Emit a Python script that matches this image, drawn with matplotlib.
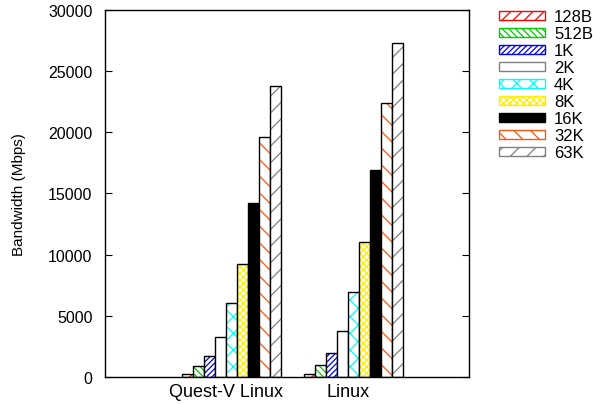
import matplotlib
matplotlib.use('Agg')
import matplotlib.pyplot as plt
from matplotlib.patches import Patch
import numpy as np

plt.rcParams['font.family'] = ['Liberation Sans', 'DejaVu Sans']
plt.rcParams['hatch.linewidth'] = 0.9

# tamaños de mensaje y ancho de banda (Mbps) por sistema
sizes = ['128B', '512B', '1K', '2K', '4K', '8K', '16K', '32K', '63K']
systems = ['Quest-V Linux', 'Linux']
questv = [220, 870, 1690, 3250, 6020, 9240, 14230, 19600, 23820]
linux = [220, 1000, 1960, 3740, 6950, 11040, 16930, 22400, 27280]

# estilo de cada barra: relleno, color de trama, trama
styles = [
    ('white', 'red', '///'),
    ('white', '#00cc00', '\\\\\\\\\\'),
    ('white', '#0000ee', '//////'),
    ('white', 'gray', ''),
    ('white', 'cyan', 'xx'),
    ('white', '#ffee00', 'xxxxx'),
    ('black', 'black', ''),
    ('white', '#ff5511', '\\\\'),
    ('white', 'gray', '//'),
]

fig = plt.figure(figsize=(5.93, 4.06), dpi=100)
ax = fig.add_axes([0.177, 0.069, 0.614, 0.904])

n = len(sizes)
w = 1.0 / (n + 2)
datos = np.array([questv, linux])
for j in range(n):
    x = np.arange(len(systems)) + (j - 3.5) * w
    fc, hc, h = styles[j]
    ax.bar(x, datos[:, j], w, color=fc, edgecolor=hc, hatch=h, linewidth=0)
    ax.bar(x, datos[:, j], w, fill=False, edgecolor='black', linewidth=1)

ax.set_xlim(-1, 2)
ax.set_ylim(0, 30000)
ax.set_xticks(range(len(systems)))
ax.set_xticklabels(systems, fontsize=13)
ax.tick_params(axis='x', length=0, pad=4)
ax.set_yticks(np.arange(0, 30001, 5000))
ax.tick_params(axis='y', direction='in', right=True, length=5, labelsize=11.5, pad=9)
ax.set_ylabel('Bandwidth (Mbps)', fontsize=11, labelpad=16)
for s in ax.spines.values():
    s.set_linewidth(1)

handles = []
for j in range(n):
    fc, hc, h = styles[j]
    handles.append(Patch(facecolor=fc, edgecolor=hc, hatch=h, linewidth=1))
fig.legend(handles, sizes, loc='upper left', bbox_to_anchor=(499 / 593, 0.975),
           frameon=False, borderpad=0, borderaxespad=0,
           handlelength=2.75, handleheight=0.48,
           labelspacing=0.12, handletextpad=0.55, fontsize=12)

plt.savefig('out.png', dpi=100)
